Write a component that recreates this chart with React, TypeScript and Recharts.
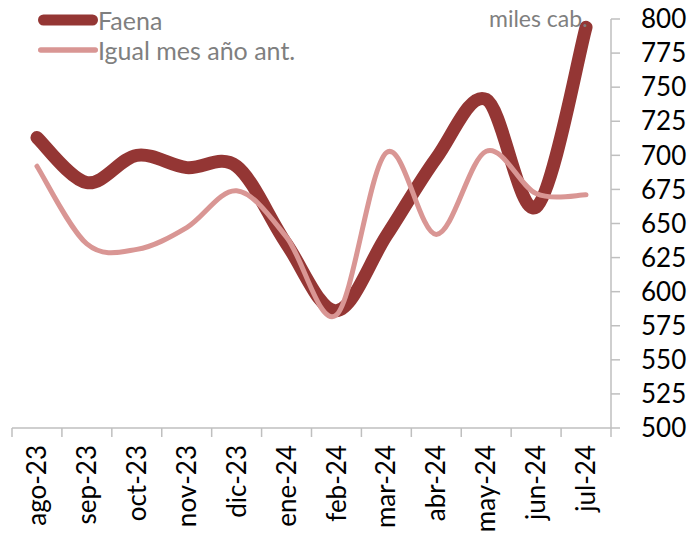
import React from "react";
import { LineChart, Line, XAxis, YAxis, Legend } from "recharts";

const meses = ["ago-23", "sep-23", "oct-23", "nov-23", "dic-23", "ene-24", "feb-24", "mar-24", "abr-24", "may-24", "jun-24", "jul-24"];
const faena = [713, 680, 700, 691, 692, 635, 586, 641, 698, 741, 662, 794];
const anterior = [692, 635, 631, 647, 674, 640, 583, 702, 642, 703, 672, 671];
const yTicks = [500, 525, 550, 575, 600, 625, 650, 675, 700, 725, 750, 775, 800];

const DARK = "#943634";
const LIGHT = "#d99694";
const GRID = "#bfbfbf";
const FONT = "Lato, 'Open Sans', sans-serif";

const data = meses.map((m, i) => ({ x: i + 0.5, mes: m, faena: faena[i], anterior: anterior[i] }));
const xTicks: number[] = [];
for (let i = 0; i <= meses.length * 2; i++) xTicks.push(i / 2);

// excel-like smoothing (catmull-rom through the points)
function excelCurve(context: any) {
  let pts: number[][] = [];
  return {
    areaStart() {},
    areaEnd() {},
    lineStart() { pts = []; },
    point(x: number, y: number) { pts.push([+x, +y]); },
    lineEnd() {
      if (!pts.length) return;
      context.moveTo(pts[0][0], pts[0][1]);
      for (let i = 0; i < pts.length - 1; i++) {
        const p0 = pts[i - 1] || pts[i];
        const p1 = pts[i];
        const p2 = pts[i + 1];
        const p3 = pts[i + 2] || p2;
        context.bezierCurveTo(
          p1[0] + (p2[0] - p0[0]) / 6, p1[1] + (p2[1] - p0[1]) / 6,
          p2[0] - (p3[0] - p1[0]) / 6, p2[1] - (p3[1] - p1[1]) / 6,
          p2[0], p2[1]
        );
      }
    },
  };
}

function MonthTick(props: any) {
  const { x, y, payload } = props;
  const v = payload.value;
  if (Number.isInteger(v)) {
    return <line x1={x} x2={x} y1={y} y2={y + 9} stroke={GRID} strokeWidth={1.5} />;
  }
  const label = meses[Math.floor(v)];
  return (
    <text x={x} y={y + 17} transform={`rotate(-90 ${x} ${y + 17})`} textAnchor="end" dy="0.35em"
      fontSize={26} fontFamily={FONT} fill="#000">{label}</text>
  );
}

function LegendBox() {
  const row = (color: string, w: number, label: string) => (
    <div style={{ display: "flex", alignItems: "center", height: 30 }}>
      <svg width={64} height={14}>
        <line x1={w / 2 + 2} x2={62 - w / 2} y1={7} y2={7} stroke={color} strokeWidth={w} strokeLinecap="round" />
      </svg>
      <span style={{ fontSize: 25, color: "#7f7f7f", fontFamily: FONT, marginLeft: -2 }}>{label}</span>
    </div>
  );
  return (
    <div style={{ position: "absolute", left: 36, top: 5 }}>
      {row(DARK, 11, "Faena")}
      {row(LIGHT, 5.5, "Igual mes año ant.")}
    </div>
  );
}

export default function App() {
  return (
    <div style={{ position: "absolute", left: 0, top: 0, width: 693, height: 537, background: "#fff" }}>
      <LineChart width={693} height={537} data={data} margin={{ top: 19, right: 0, bottom: 0, left: 12 }}>
        <XAxis dataKey="x" type="number" domain={[0, 12]} ticks={xTicks} interval={0} height={109}
          tick={<MonthTick />} tickLine={false} tickSize={0} tickMargin={0}
          axisLine={{ stroke: GRID, strokeWidth: 1.5 }} />
        <YAxis orientation="right" domain={[500, 800]} ticks={yTicks} interval={0} width={82}
          tickSize={9} tickMargin={21} tickLine={{ stroke: GRID, strokeWidth: 1.5 }}
          axisLine={{ stroke: GRID, strokeWidth: 1.5 }}
          tick={{ fill: "#000", fontSize: 26, fontFamily: FONT, textAnchor: "start" }} />
        <Legend content={() => null} />
        <Line dataKey="faena" type={excelCurve as any} stroke={DARK} strokeWidth={13} strokeLinecap="round"
          dot={false} activeDot={false} isAnimationActive={false} />
        <Line dataKey="anterior" type={excelCurve as any} stroke={LIGHT} strokeWidth={5} strokeLinecap="round"
          dot={false} activeDot={false} isAnimationActive={false} />
      </LineChart>
      <LegendBox />
      <div style={{ position: "absolute", left: 489, top: 4, fontSize: 23, color: "#7f7f7f", fontFamily: FONT }}>
        miles cab.
      </div>
    </div>
  );
}
